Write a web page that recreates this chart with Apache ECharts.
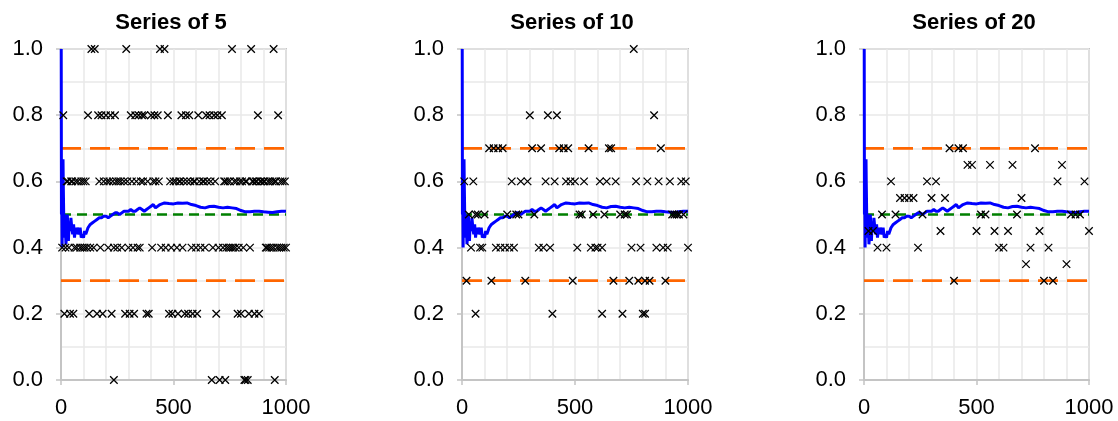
<!DOCTYPE html>
<html>
<head>
<meta charset="utf-8">
<script src="https://cdn.jsdelivr.net/npm/echarts@6/dist/echarts.min.js"></script>
<style>
  html, body { margin: 0; padding: 0; background: #ffffff; }
  #chart { width: 1118px; height: 421px; }
</style>
</head>
<body>
<div id="chart"></div>
<script>
// Panel titles and axis ticks
const panelTitles = ['Series of 5', 'Series of 10', 'Series of 20'];
const xTicks = [0, 500, 1000];
const yTicks = [0, 0.2, 0.4, 0.6, 0.8, 1.0];

// Reference levels: expected proportion and the band around it
const centerLevel = 0.5;
const bandLevels = [0.3, 0.7];

// Cumulative proportion after n trials: [n, proportion]
const runningMean = [
  [1, 1.0], [2, 0.5], [3, 0.667], [4, 0.5], [5, 0.4], [6, 0.5], [7, 0.571], [8, 0.625],
  [9, 0.667], [10, 0.6], [12, 0.5], [14, 0.43], [16, 0.5], [18, 0.44], [20, 0.45],
  [22, 0.41], [25, 0.44], [28, 0.5], [30, 0.47], [33, 0.42], [36, 0.47], [40, 0.45],
  [44, 0.49], [48, 0.46], [52, 0.44], [56, 0.47], [60, 0.43], [64, 0.46], [68, 0.44],
  [72, 0.46], [76, 0.45], [80, 0.44], [85, 0.46], [90, 0.43], [95, 0.44], [100, 0.43],
  [105, 0.45], [110, 0.44], [120, 0.46], [130, 0.47], [140, 0.475], [150, 0.48],
  [160, 0.485], [170, 0.49], [180, 0.49], [190, 0.495], [200, 0.495], [210, 0.49],
  [220, 0.495], [230, 0.5], [240, 0.505], [250, 0.505], [260, 0.5], [270, 0.505],
  [280, 0.51], [290, 0.51], [300, 0.51], [310, 0.515], [320, 0.51], [330, 0.51],
  [340, 0.515], [350, 0.52], [360, 0.515], [370, 0.51], [380, 0.515], [390, 0.52],
  [400, 0.525], [410, 0.53], [420, 0.52], [440, 0.53], [460, 0.535], [480, 0.533],
  [500, 0.532], [520, 0.535], [540, 0.534], [560, 0.535], [580, 0.53], [600, 0.527],
  [620, 0.522], [640, 0.52], [660, 0.524], [680, 0.525], [700, 0.522], [720, 0.52],
  [740, 0.522], [760, 0.52], [780, 0.518], [800, 0.512], [820, 0.508], [840, 0.508],
  [860, 0.51], [880, 0.51], [900, 0.508], [920, 0.507], [940, 0.506], [960, 0.508],
  [980, 0.51], [1000, 0.51]
];

// Proportion in each block of 5 trials: [proportion, block end positions]
const blocksOf5 = [
  [1.0, [135, 150, 290, 440, 460, 760, 845, 945]],
  [0.8, [10, 120, 165, 180, 200, 220, 240, 310, 330, 345, 360, 370, 400, 415, 430, 475,
         535, 555, 570, 610, 645, 660, 680, 695, 715, 875, 965]],
  [0.6, [25, 30, 45, 50, 65, 75, 90, 100, 110, 170, 190, 205, 215, 230, 245, 255, 265,
         280, 295, 315, 335, 355, 365, 385, 410, 420, 435, 485, 500, 510, 525, 530, 545,
         560, 575, 590, 595, 615, 630, 635, 650, 665, 685, 725, 730, 740, 750, 770, 780,
         795, 805, 820, 825, 850, 855, 865, 870, 885, 890, 900, 905, 920, 930, 940, 950,
         955, 975, 985, 995]],
  [0.4, [5, 20, 35, 60, 70, 85, 95, 105, 115, 130, 145, 175, 210, 235, 250, 270, 300,
         320, 340, 350, 405, 445, 465, 490, 515, 540, 580, 600, 620, 640, 675, 700, 720,
         735, 745, 755, 765, 775, 790, 810, 840, 910, 915, 925, 935, 945, 960, 970, 980,
         990, 1000]],
  [0.2, [15, 40, 55, 125, 160, 185, 225, 285, 305, 325, 380, 390, 480, 495, 520, 550,
         565, 585, 605, 690, 785, 800, 835, 860, 880]],
  [0.0, [235, 670, 705, 730, 815, 820, 830, 950]]
];

// Proportion in each block of 10 trials
const blocksOf10 = [
  [1.0, [760]],
  [0.8, [300, 380, 420, 850]],
  [0.7, [120, 140, 160, 180, 310, 350, 430, 450, 470, 560, 650, 660, 880]],
  [0.6, [10, 50, 220, 260, 290, 370, 410, 460, 480, 500, 540, 610, 640, 680, 770,
         820, 870, 920, 970, 990]],
  [0.5, [30, 60, 70, 100, 200, 240, 250, 320, 520, 530, 580, 630, 700, 720, 730,
         930, 940, 950, 960, 980]],
  [0.4, [40, 80, 90, 150, 170, 190, 210, 230, 340, 360, 390, 510, 570, 590, 600,
         620, 750, 790, 860, 890, 910, 1000]],
  [0.3, [20, 130, 280, 490, 670, 740, 780, 810, 830, 900]],
  [0.2, [60, 400, 620, 710, 800, 810]]
];

// Proportion in each block of 20 trials
const blocksOf20 = [
  [0.7, [380, 420, 440, 760]],
  [0.65, [460, 480, 560, 660, 880]],
  [0.6, [120, 280, 320, 860, 980]],
  [0.55, [160, 180, 200, 220, 300, 360, 700]],
  [0.5, [80, 140, 260, 520, 540, 680, 920, 940, 960]],
  [0.45, [20, 40, 340, 500, 580, 640, 780, 1000]],
  [0.4, [60, 100, 240, 600, 620, 740, 820]],
  [0.35, [720, 900]],
  [0.3, [400, 800, 840]]
];

const panelBlocks = [blocksOf5, blocksOf10, blocksOf20];

// Layout of the three plot areas
const plotRects = [
  { left: 61, top: 49, width: 225, height: 331 },
  { left: 462, top: 49, width: 226, height: 331 },
  { left: 864, top: 49, width: 225, height: 331 }
];
const titleCenters = [166, 567, 969];

const FONT = '"Liberation Sans", Arial, sans-serif';
const FRAME = '#c4c4c4';
const GRIDLINE = '#e9e9e9';

const chart = echarts.init(document.getElementById('chart'), null, { renderer: 'canvas' });

const grids = [], xAxes = [], yAxes = [], series = [], titles = [];

plotRects.forEach((r, i) => {
  grids.push({
    left: r.left, top: r.top, width: r.width, height: r.height,
    show: true, borderColor: FRAME, borderWidth: 2, backgroundColor: 'transparent',
    containLabel: false
  });
  titles.push({
    text: panelTitles[i],
    left: titleCenters[i], top: 7, textAlign: 'center',
    textStyle: { fontFamily: FONT, fontSize: 22, fontWeight: 'bold', color: '#000' }
  });
  xAxes.push({
    gridIndex: i, type: 'value',
    min: xTicks[0], max: xTicks[xTicks.length - 1], interval: xTicks[1] - xTicks[0],
    axisLine: { show: true, onZero: false, lineStyle: { color: FRAME, width: 2 } },
    axisTick: { show: true, inside: false, length: 5, lineStyle: { color: FRAME, width: 1.5 } },
    minorTick: { show: false, splitNumber: 5 },
    axisLabel: {
      fontFamily: FONT, fontSize: 22, color: '#000', margin: 17,
      formatter: v => String(v)
    },
    splitLine: { show: true, lineStyle: { color: GRIDLINE, width: 1.5 } },
    minorSplitLine: { show: true, lineStyle: { color: GRIDLINE, width: 1.5 } }
  });
  yAxes.push({
    gridIndex: i, type: 'value',
    min: yTicks[0], max: yTicks[yTicks.length - 1], interval: yTicks[1] - yTicks[0],
    axisLine: { show: true, onZero: false, lineStyle: { color: FRAME, width: 2 } },
    axisTick: { show: true, inside: false, length: 5, lineStyle: { color: FRAME, width: 1.5 } },
    minorTick: { show: false, splitNumber: 2 },
    axisLabel: {
      fontFamily: FONT, fontSize: 22, color: '#000', margin: 18,
      formatter: v => v.toFixed(1)
    },
    splitLine: { show: true, lineStyle: { color: GRIDLINE, width: 1.5 } },
    minorSplitLine: { show: true, lineStyle: { color: GRIDLINE, width: 1.5 } }
  });

  // Band limits (orange dashes)
  bandLevels.forEach(level => {
    series.push({
      type: 'line', xAxisIndex: i, yAxisIndex: i, silent: true, z: 2,
      symbol: 'none', animation: false,
      data: [[xTicks[0], level], [xTicks[xTicks.length - 1], level]],
      lineStyle: { color: '#ff6600', width: 2.7, type: [20, 9] }
    });
  });

  // Expected proportion (green dashes)
  series.push({
    type: 'line', xAxisIndex: i, yAxisIndex: i, silent: true, z: 2,
    symbol: 'none', animation: false,
    data: [[xTicks[0], centerLevel], [xTicks[xTicks.length - 1], centerLevel]],
    lineStyle: { color: '#008000', width: 2.3, type: [10, 6] }
  });

  // Cumulative proportion (blue line)
  series.push({
    type: 'line', xAxisIndex: i, yAxisIndex: i, silent: true, z: 3,
    symbol: 'none', showSymbol: false, animation: false,
    data: runningMean,
    lineStyle: { color: '#0000ff', width: 3 }
  });

  // Block proportions (black crosses)
  const pts = [];
  panelBlocks[i].forEach(([level, xs]) => xs.forEach(x => pts.push([x, level])));
  series.push({
    type: 'scatter', xAxisIndex: i, yAxisIndex: i, silent: true, z: 4,
    animation: false,
    symbol: 'path://M0,0L10,10M10,0L0,10',
    symbolSize: 7.5,
    itemStyle: { color: 'none', borderColor: '#000', borderWidth: 1.3, opacity: 1 },
    data: pts
  });
});

chart.setOption({
  animation: false,
  backgroundColor: '#ffffff',
  title: titles,
  grid: grids,
  xAxis: xAxes,
  yAxis: yAxes,
  series: series
});
</script>
</body>
</html>
